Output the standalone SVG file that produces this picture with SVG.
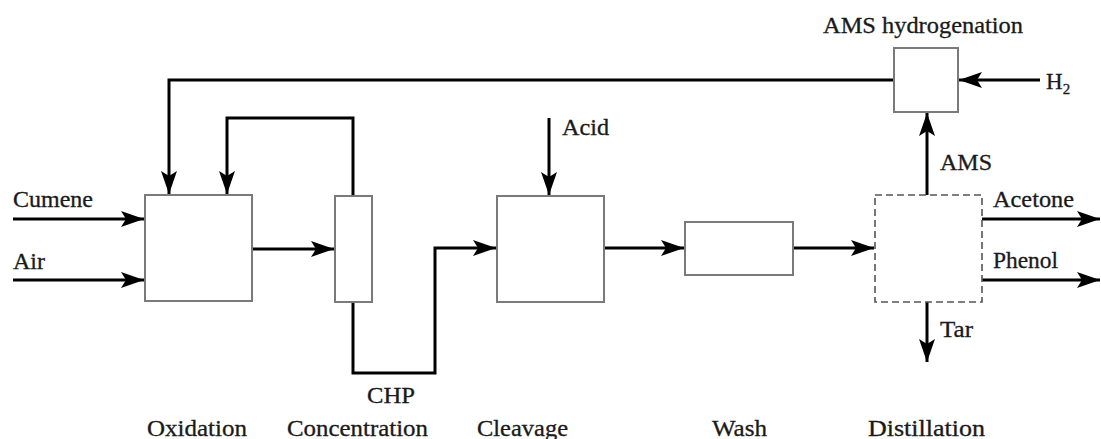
<svg xmlns="http://www.w3.org/2000/svg" width="1101" height="439" viewBox="0 0 1101 439">
<style>
.box{fill:#fff;stroke:#7a7a7a;stroke-width:2}
.dash{fill:#fff;stroke:#555;stroke-width:1.6;stroke-dasharray:7,4}
.ln{fill:none;stroke:#000;stroke-width:3;marker-end:url(#ah)}
.t{font-family:'Liberation Serif','Times New Roman',Times,'DejaVu Serif',serif;font-size:23px;fill:#1a1a1a;stroke:#1a1a1a;stroke-width:0.3}
</style>
<defs>
<marker id="ah" markerUnits="userSpaceOnUse" markerWidth="26" markerHeight="18" refX="23" refY="8" orient="auto">
<path d="M0,0 L23,8 L0,16 L5,8 z" fill="#000"/>
</marker>
</defs>
<rect width="1101" height="439" fill="#fff"/>
<g id="connectors">
<path class="ln" d="M13,219 H144"/>
<path class="ln" d="M13,280 H144"/>
<path class="ln" d="M252,249 H334"/>
<path class="ln" d="M353,196 V118 H227 V194"/>
<path class="ln" d="M894,80 H169 V194"/>
<path class="ln" d="M353,302 V373 H435 V248 H496"/>
<path class="ln" d="M549,118 V195"/>
<path class="ln" d="M604,248 H684"/>
<path class="ln" d="M793,248 H874"/>
<path class="ln" d="M927,195 V113"/>
<path class="ln" d="M1040,80 H959"/>
<path class="ln" d="M982,219 H1100"/>
<path class="ln" d="M982,280 H1100"/>
<path class="ln" d="M927,302 V362"/>
</g>
<g id="oxidation">
<rect class="box" x="145" y="195" width="107" height="106"/>
<text class="t" x="147" y="436" textLength="100" lengthAdjust="spacingAndGlyphs">Oxidation</text>
</g>
<g id="concentration">
<rect class="box" x="335" y="196" width="37" height="106"/>
<text class="t" x="287" y="436" textLength="141" lengthAdjust="spacingAndGlyphs">Concentration</text>
</g>
<g id="cleavage">
<rect class="box" x="497" y="196" width="107" height="106"/>
<text class="t" x="477" y="436" textLength="91" lengthAdjust="spacingAndGlyphs">Cleavage</text>
</g>
<g id="wash">
<rect class="box" x="685" y="222" width="108" height="53"/>
<text class="t" x="712" y="436" textLength="55" lengthAdjust="spacingAndGlyphs">Wash</text>
</g>
<g id="distillation">
<rect class="dash" x="875" y="195" width="107" height="107"/>
<text class="t" x="868" y="436" textLength="117" lengthAdjust="spacingAndGlyphs">Distillation</text>
</g>
<g id="ams-hydrogenation">
<rect class="box" x="894" y="48" width="64" height="64"/>
<text class="t" x="823" y="33" textLength="200" lengthAdjust="spacingAndGlyphs">AMS hydrogenation</text>
</g>
<g id="labels">
<text class="t" x="13" y="207" textLength="80" lengthAdjust="spacingAndGlyphs">Cumene</text>
<text class="t" x="13" y="269" textLength="32" lengthAdjust="spacingAndGlyphs">Air</text>
<text class="t" x="367" y="403" textLength="48" lengthAdjust="spacingAndGlyphs">CHP</text>
<text class="t" x="562" y="135" textLength="47" lengthAdjust="spacingAndGlyphs">Acid</text>
<text class="t" x="940" y="170" textLength="52" lengthAdjust="spacingAndGlyphs">AMS</text>
<text class="t" x="993" y="207" textLength="81" lengthAdjust="spacingAndGlyphs">Acetone</text>
<text class="t" x="993" y="268" textLength="65" lengthAdjust="spacingAndGlyphs">Phenol</text>
<text class="t" x="940" y="337" textLength="33" lengthAdjust="spacingAndGlyphs">Tar</text>
<text class="t" x="1046" y="89">H<tspan font-size="15" dy="5">2</tspan></text>
</g>
</svg>
